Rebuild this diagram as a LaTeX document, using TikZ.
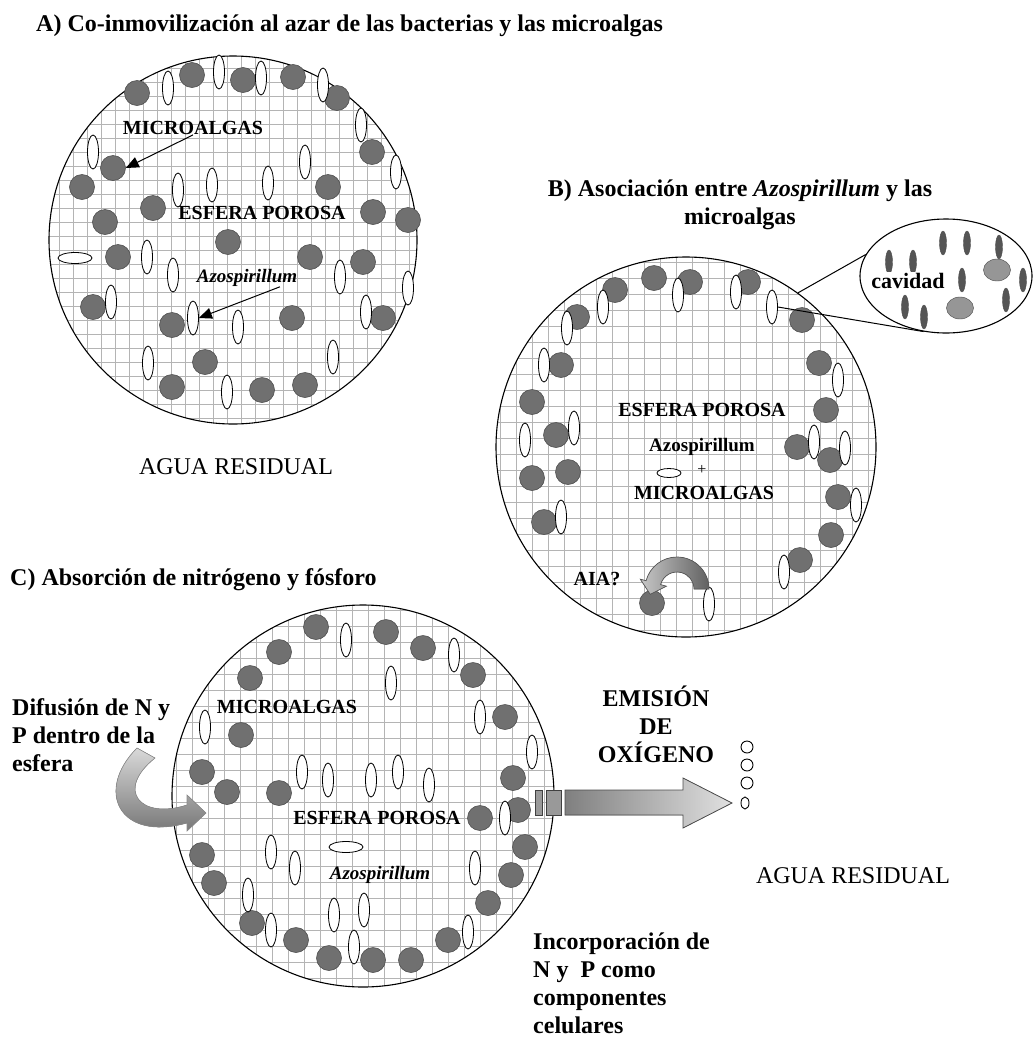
\documentclass[tikz,border=0pt]{standalone}
\usepackage{fontspec}
\setmainfont{Liberation Serif}
\usetikzlibrary{arrows.meta,shapes.geometric}
\definecolor{algafill}{RGB}{112,112,112}
\definecolor{algaline}{RGB}{80,80,80}
\definecolor{gridgray}{RGB}{180,180,180}
\definecolor{cavgray}{RGB}{85,85,85}
\definecolor{vacgray}{RGB}{150,150,150}

\tikzset{
  alga/.style={circle, fill=algafill, draw=algaline, line width=0.6pt, minimum size=25pt, inner sep=0pt},
  bact/.style={ellipse, fill=white, draw=black, line width=0.8pt, minimum width=11pt, minimum height=34pt, inner sep=0pt},
  bacth/.style={bact, minimum width=34pt, minimum height=11pt},
  sphere/.style={circle, draw=black, line width=1.1pt, inner sep=0pt},
  gridline/.style={draw=gridgray, line width=0.8pt},
  titletxt/.style={font=\fontsize{24}{28}\selectfont\bfseries, inner sep=0pt},
  labtxt/.style={font=\fontsize{20}{24}\selectfont\bfseries, inner sep=0pt},
  plaintxt/.style={font=\fontsize{24}{28}\selectfont, inner sep=0pt},
  pointer/.style={-{Triangle[length=13pt,width=11pt]}, line width=1pt},
  cavrod/.style={ellipse, fill=cavgray, draw=black!70, minimum width=7pt, minimum height=24pt, inner sep=0pt},
  vacuole/.style={ellipse, fill=vacgray, draw=black!70, minimum width=27pt, minimum height=22pt, inner sep=0pt},
}

\begin{document}
\begin{tikzpicture}[x=1pt, y=-1pt]
\useasboundingbox (0,0) rectangle (1036,1039);

% A) random co-immobilization
\node[titletxt, anchor=base west] (titA) at (36,31) {A) Co-inmovilización al azar de las bacterias y las microalgas};
\begin{scope}
  \clip (233,240) circle (184);
  \foreach \gx in {45,59,...,425} \draw[gridline] (\gx,50) -- (\gx,430);
  \foreach \gy in {54,68,...,430} \draw[gridline] (45,\gy) -- (425,\gy);
\end{scope}
\node[sphere, minimum size=368pt] (sphA) at (233,240) {};
\foreach \x/\y [count=\i] in {137/93,192/75,243/80,293/77,337/98,372/152,113/168,82/187,328/187,153/208,373/212,408/220,105/222,228/242,118/257,310/257,363/262,93/307,172/325,292/318,383/318,205/362,172/387,262/390,305/385}
  \node[alga] (aA\i) at (\x,\y) {};
\foreach \x/\y [count=\i] in {168/88,219/72,261/78,323/85,361/125,93/152,305/162,396/172,178/190,212/185,268/183,147/257,173/275,340/277,408/288,111/302,193/318,238/327,366/312,148/363,333/357,227/392}
  \node[bact] (bA\i) at (\x,\y) {};
\node[bacth] (bAh) at (75,258) {};
\node[labtxt] (labMicA) at (193,128) {MICROALGAS};
\node[labtxt] (labEsfA) at (262,213) {ESFERA POROSA};
\node[labtxt, font=\fontsize{19}{22}\selectfont\bfseries\itshape] (labAzoA) at (247,278) {Azospirillum};
\draw[pointer] (labMicA.south) -- (aA7.east);
\draw[pointer] (labAzoA.-15) -- (bA17.east);
\node[plaintxt, anchor=base] (aguaA) at (236,474) {AGUA RESIDUAL};

% B) association
\node[titletxt, align=center, anchor=north] (titB) at (740,180) {B) Asociación entre \textit{Azospirillum} y las\\microalgas};
\begin{scope}
  \clip (686,447) circle (190);
  \foreach \gx in {500,516,...,880} \draw[gridline] (\gx,255) -- (\gx,640);
  \foreach \gy in {262,278,...,640} \draw[gridline] (495,\gy) -- (880,\gy);
\end{scope}
\node[sphere, minimum size=380pt] (sphB) at (686,447) {};
\foreach \x/\y [count=\i] in {615/290,654/278,690/282,748/282,577/317,802/320,561/365,819/363,532/402,826/410,556/435,797/447,830/460,532/478,568/472,838/497,544/522,831/535,800/560,652/603}
  \node[alga] (aB\i) at (\x,\y) {};
\foreach \x/\y [count=\i] in {603/307,678/295,736/292,772/307,567/328,544/365,838/380,574/428,525/440,814/442,845/448,856/505,561/517,784/572,709/604}
  \node[bact] (bB\i) at (\x,\y) {};
\node[bacth, minimum width=24pt, minimum height=9pt] (bBh) at (669,473) {};
\node[labtxt] (labEsfB) at (702,410) {ESFERA POROSA};
\node[labtxt, font=\fontsize{19}{22}\selectfont\bfseries] (labAzoB) at (702,447) {Azospirillum};
\node[inner sep=0pt, font=\fontsize{16}{18}\selectfont] (plusB) at (702,470) {+};
\node[labtxt] (labMicB) at (704,493) {MICROALGAS};
\node[labtxt] (labAIA) at (597,579) {AIA?};
% curved AIA arrow
\filldraw[left color=black!22, right color=black!62, draw=black!65, line width=0.7pt]
  (709,589) arc[start angle=0, end angle=-165, radius=32] -- (640.3,579.2) -- (650.2,594.3)
  -- (666.4,586.2) -- (660.6,584.6) arc[start angle=-165, end angle=0, radius=17] -- cycle;
% cavity zoom
\node[ellipse, draw=black, line width=1.1pt, fill=white, minimum width=172pt, minimum height=114pt, inner sep=0pt] (cav) at (946,276) {};
\draw[line width=1pt] (sphB.54) -- (cav.165);
\draw[line width=1pt] (bB4.east) -- (cav.248);
\foreach \x/\y [count=\i] in {889/262,913/262,943/243,967/243,999/247,962/280,1023/280,905/307,924/317,1006/300}
  \node[cavrod] (rod\i) at (\x,\y) {};
\node[vacuole] (vac1) at (997,270) {};
\node[vacuole] (vac2) at (960,308) {};
\node[labtxt, font=\fontsize{22}{26}\selectfont\bfseries, fill=white, inner sep=1pt] (labCav) at (908,281) {cavidad};

% C) N and P uptake
\node[titletxt, anchor=base west] (titC) at (10,585) {C) Absorción de nitrógeno y fósforo};
\begin{scope}
  \clip (363,796) circle (191);
  \foreach \gx in {176,192,...,556} \draw[gridline] (\gx,600) -- (\gx,990);
  \foreach \gy in {610,626,...,990} \draw[gridline] (170,\gy) -- (556,\gy);
\end{scope}
\node[sphere, minimum size=382pt] (sphC) at (363,796) {};
\foreach \x/\y [count=\i] in {316/627,386/632,279/652,423/648,250/678,473/675,505/717,241/735,202/772,513/778,227/792,279/793,480/818,518/810,525/847,202/855,214/883,511/875,488/903,252/923,296/940,448/940,329/958,373/960,411/960}
  \node[alga] (aC\i) at (\x,\y) {};
\foreach \x/\y [count=\i] in {346/640,454/655,391/683,205/727,480/717,532/752,302/772,328/780,371/780,398/772,429/785,505/818,271/852,295/868,475/868,248/895,334/915,364/910,468/932,271/930,354/947}
  \node[bact] (bC\i) at (\x,\y) {};
\node[bacth] (bCh) at (346,847) {};
\node[labtxt] (labMicC) at (287,707) {MICROALGAS};
\node[labtxt] (labEsfC) at (377,818) {ESFERA POROSA};
\node[labtxt, font=\fontsize{19}{22}\selectfont\bfseries\itshape] (labAzoC) at (380,875) {Azospirillum};
\node[titletxt, align=left, anchor=north west] (difu) at (12,698) {Difusión de N y\\P dentro de la\\esfera};
% diffusion arrow
\filldraw[top color=black!15, bottom color=black!58, draw=black!45, line width=0.6pt]
  (137,748) .. controls (95,790) and (118,842) .. (187,823) -- (187,831) -- (206,813)
  -- (187,795) -- (187,805) .. controls (140,820) and (115,790) .. (155,758) -- cycle;
% oxygen emission
\filldraw[fill=black!40, draw=black!75, line width=0.8pt] (535,790) rectangle (542,815);
\filldraw[fill=black!40, draw=black!75, line width=0.8pt] (546,790) rectangle (561,815);
\filldraw[left color=black!50, right color=black!12, draw=black!70, line width=0.8pt]
  (565,790) -- (683,790) -- (683,778) -- (732,803) -- (683,828) -- (683,815) -- (565,815) -- cycle;
\draw[line width=0.9pt] (747,747) circle (6);
\draw[line width=0.9pt] (747,765) circle (6);
\draw[line width=0.9pt] (747,783) circle (6);
\draw[line width=0.9pt] (745,803) ellipse (4 and 6);
\node[titletxt, align=center, anchor=north] (emis) at (656,686) {EMISIÓN\\DE\\OXÍGENO};
\node[plaintxt, anchor=base] (aguaC) at (853,883) {AGUA RESIDUAL};
\node[titletxt, align=left, anchor=north west] (incorp) at (533,933) {Incorporación de\\N y~ P como\\componentes\\celulares};
\end{tikzpicture}
\end{document}
